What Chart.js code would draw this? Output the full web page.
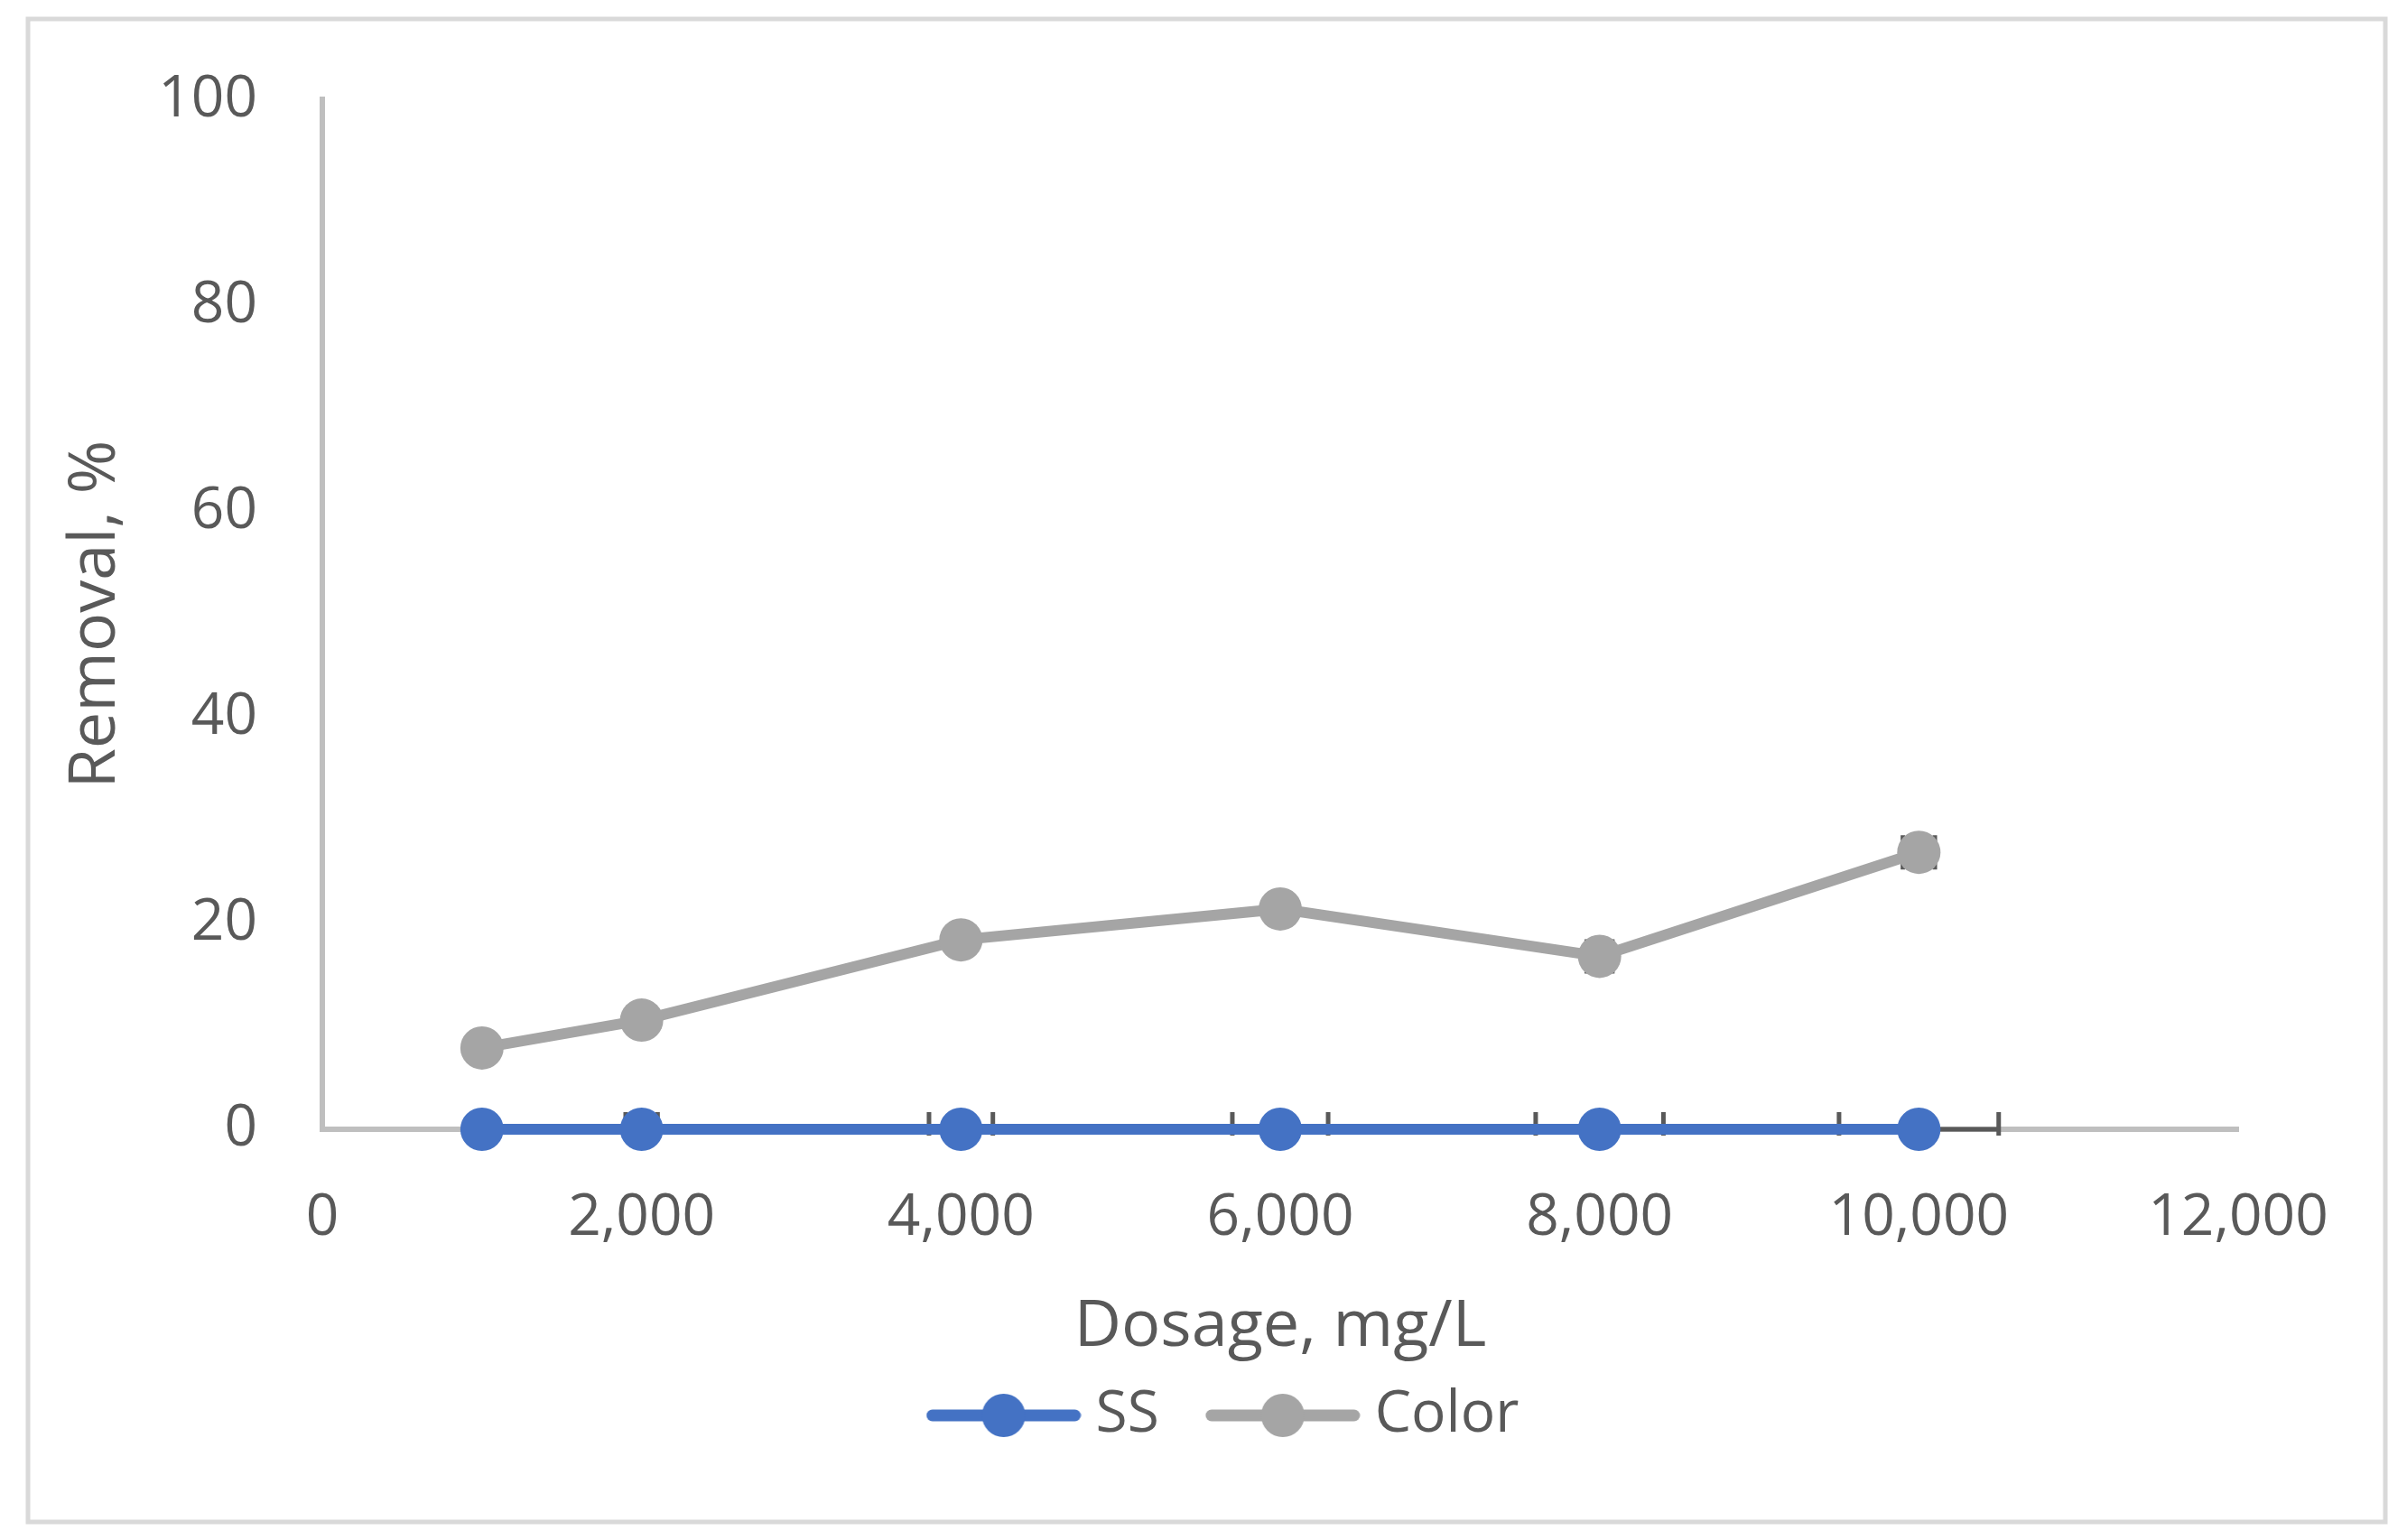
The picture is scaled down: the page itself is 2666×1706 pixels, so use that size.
<!DOCTYPE html>
<html>
<head>
<meta charset="utf-8">
<script src="https://cdn.jsdelivr.net/npm/chart.js@4.4.1/dist/chart.umd.min.js"></script>
<style>
    html, body { margin: 0; padding: 0; background: #ffffff; }
</style>
</head>
<body>
<canvas id="removal-chart" width="2666" height="1706"></canvas>
<script>
const dosage = [1000, 2000, 4000, 6000, 8000, 10000];
const ssRemoval = [0, 0, 0, 0, 0, 0];
const colorRemoval = [7.9, 10.6, 18.4, 21.4, 16.8, 26.9];
const ssDosageErr = [50, 100, 200, 300, 400, 500];
const colorDosageErr = [10, 20, 40, 60, 80, 100];
const xTicks = [0, 2000, 4000, 6000, 8000, 10000, 12000];
const yTicks = [0, 20, 40, 60, 80, 100];

const textColor = "#595959";
const axisColor = "#bfbfbf";
const blue = "#4472c4";
const grey = "#a5a5a5";

Chart.defaults.font.family = "'Open Sans', 'Noto Sans', sans-serif";
Chart.defaults.color = textColor;

// legend swatch: line with a dot in the middle, like Excel
function legendSwatch(color) {
    const c = document.createElement("canvas");
    c.width = 172;
    c.height = 50;
    const g = c.getContext("2d");
    g.strokeStyle = color;
    g.lineWidth = 13;
    g.lineCap = "round";
    g.beginPath();
    g.moveTo(7, 25);
    g.lineTo(165, 25);
    g.stroke();
    g.fillStyle = color;
    g.beginPath();
    g.arc(86, 25, 24, 0, Math.PI * 2);
    g.fill();
    return c;
}

const errorBars = {
    id: "errorBars",
    beforeDatasetsDraw(chart) {
        const { ctx, chartArea, scales } = chart;
        const sets = [
            [ssRemoval, ssDosageErr],
            [colorRemoval, colorDosageErr],
        ];
        ctx.save();
        ctx.beginPath();
        ctx.rect(chartArea.left, chartArea.top, chartArea.width, chartArea.height + 7);
        ctx.clip();
        ctx.strokeStyle = "#595959";
        ctx.lineWidth = 5;
        sets.forEach(([vals, errs]) => {
            dosage.forEach((d, i) => {
                const py = scales.y.getPixelForValue(vals[i]);
                const x1 = scales.x.getPixelForValue(d - errs[i]);
                const x2 = scales.x.getPixelForValue(d + errs[i]);
                ctx.beginPath();
                ctx.moveTo(x1, py);
                ctx.lineTo(x2, py);
                ctx.moveTo(x1, py - 19);
                ctx.lineTo(x1, py + 19);
                ctx.moveTo(x2, py - 19);
                ctx.lineTo(x2, py + 19);
                ctx.stroke();
            });
        });
        ctx.restore();
    },
};

const frame = {
    id: "frame",
    beforeDraw(chart) {
        const ctx = chart.ctx;
        ctx.save();
        ctx.fillStyle = "#ffffff";
        ctx.fillRect(0, 0, chart.width, chart.height);
        ctx.strokeStyle = "#d9d9d9";
        ctx.lineWidth = 5;
        ctx.strokeRect(31, 21, 2611, 1665);
        ctx.restore();
    },
};

const removalCtx = document.getElementById("removal-chart");

let removalChart = new Chart(removalCtx, {
    type: "line",
    data: {
        datasets: [
            {
                label: "SS",
                data: dosage.map((d, i) => ({ x: d, y: ssRemoval[i] })),
                borderColor: blue,
                backgroundColor: blue,
                borderWidth: 12,
                pointRadius: 24,
                pointBorderWidth: 0,
                pointHoverRadius: 24,
                clip: false,
            },
            {
                label: "Color",
                data: dosage.map((d, i) => ({ x: d, y: colorRemoval[i] })),
                borderColor: grey,
                backgroundColor: grey,
                borderWidth: 12,
                pointRadius: 24,
                pointBorderWidth: 0,
                pointHoverRadius: 24,
                clip: false,
            },
        ],
    },
    options: {
        responsive: false,
        animation: false,
        layout: {
            padding: { left: 58, right: 0, top: 102, bottom: 96 },
        },
        plugins: {
            tooltip: { enabled: false },
            legend: {
                position: "bottom",
                labels: {
                    usePointStyle: true,
                    pointStyleWidth: 140,
                    padding: 67,
                    font: { size: 64 },
                    color: textColor,
                    generateLabels(chart) {
                        return chart.data.datasets.map((ds, i) => ({
                            text: ds.label,
                            pointStyle: legendSwatch(ds.borderColor),
                            fillStyle: ds.borderColor,
                            strokeStyle: ds.borderColor,
                            lineWidth: 0,
                            fontColor: textColor,
                            datasetIndex: i,
                        }));
                    },
                },
            },
        },
        scales: {
            x: {
                type: "linear",
                min: 0,
                max: 12000,
                afterBuildTicks(scale) {
                    scale.ticks = xTicks.map((v) => ({ value: v }));
                },
                afterFit(scale) {
                    const legendH = scale.chart.legend ? scale.chart.legend.height : 141;
                    scale.height = scale.chart.height - 96 - legendH - 1251;
                },
                grid: { drawOnChartArea: false, drawTicks: false },
                border: { display: true, color: axisColor, width: 6 },
                ticks: {
                    padding: 60,
                    maxRotation: 0,
                    font: { size: 64 },
                    color: textColor,
                    callback: (v) => v.toLocaleString("en-US"),
                },
                title: {
                    display: true,
                    text: "Dosage, mg/L",
                    font: { size: 72, lineHeight: 1.2 },
                    color: textColor,
                    padding: { top: 0, bottom: -45 },
                },
            },
            y: {
                min: 0,
                max: 100,
                afterBuildTicks(scale) {
                    scale.ticks = yTicks.map((v) => ({ value: v }));
                },
                afterFit(scale) {
                    scale.width = 299;
                },
                grid: { drawOnChartArea: false, drawTicks: false },
                border: { display: true, color: axisColor, width: 6 },
                ticks: {
                    padding: 72,
                    font: { size: 64 },
                    color: textColor,
                },
                title: {
                    display: true,
                    text: "Removal, %",
                    font: { size: 72, lineHeight: 1.2 },
                    color: textColor,
                    padding: { top: 5, bottom: 0 },
                },
            },
            // empty right-hand margin so the legend centres on the whole canvas
            spacer: {
                type: "linear",
                position: "right",
                afterFit(scale) {
                    scale.width = 187;
                },
                grid: { display: false, drawTicks: false },
                border: { display: false },
                ticks: { display: false },
            },
        },
    },
    plugins: [frame, errorBars],
});
</script>
</body>
</html>
